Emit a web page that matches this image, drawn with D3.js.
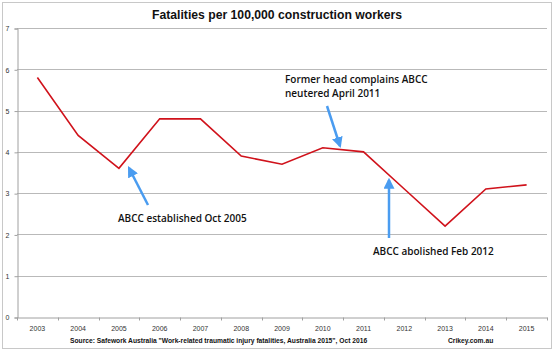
<!DOCTYPE html>
<html>
<head>
<script src="https://d3js.org/d3.v7.min.js"></script>
<style>
  body { margin: 0; background: #fff; }
  text { font-family: "Liberation Sans", Arial, sans-serif; }
  .note { font-family: "Open Sans", sans-serif; font-weight: 600; font-size: 10px; fill: #111; }
</style>
</head>
<body>
<div id="chart"></div>
<script>
// fatalities per 100,000 construction workers
var years = ["2003","2004","2005","2006","2007","2008","2009","2010","2011","2012","2013","2014","2015"];
var rates = [5.8, 4.4, 3.6, 4.8, 4.8, 3.9, 3.7, 4.1, 4.0, 3.1, 2.2, 3.1, 3.2];
var yTicks = [0, 1, 2, 3, 4, 5, 6, 7];

var width = 555, height = 353;
var plotLeft = 17, plotRight = 547, plotTop = 28, plotBottom = 317;

var svg = d3.select("#chart").append("svg")
    .attr("width", width)
    .attr("height", height);

// outer frame
svg.append("rect")
    .attr("x", 2.5).attr("y", 2.5)
    .attr("width", 549).attr("height", 346)
    .attr("fill", "#fff")
    .attr("stroke", "#c8c8c8");

var x = d3.scaleBand().domain(years).range([plotLeft, plotRight]);
var y = d3.scaleLinear().domain([0, 7]).range([plotBottom, plotTop]);

// grid
svg.append("g").selectAll("line").data(yTicks.slice(1)).enter()
    .append("line")
    .attr("x1", plotLeft).attr("x2", plotRight)
    .attr("y1", function(d) { return Math.round(y(d)) + 0.5; })
    .attr("y2", function(d) { return Math.round(y(d)) + 0.5; })
    .attr("stroke", "#b9b9b9");

// y axis
var yAxis = svg.append("g")
    .attr("transform", "translate(" + (plotLeft + 0.5) + ",0.5)")
    .call(d3.axisLeft(y).tickValues(yTicks).tickSize(3).tickPadding(5).tickFormat(d3.format("d")));
yAxis.select(".domain").attr("stroke", "#a0a0a0");
yAxis.selectAll(".tick line").attr("stroke", "#a0a0a0");
yAxis.selectAll("text").attr("font-size", 7).attr("fill", "#333").attr("font-family", "Liberation Sans, Arial, sans-serif");

// x axis
var xAxis = svg.append("g")
    .attr("transform", "translate(0," + (plotBottom + 0.5) + ")")
    .call(d3.axisBottom(x).tickSize(0).tickPadding(9));
xAxis.select(".domain").attr("stroke", "#a0a0a0");
xAxis.selectAll("text").attr("font-size", 7).attr("fill", "#333").attr("font-family", "Liberation Sans, Arial, sans-serif");
// tick marks between categories
xAxis.selectAll(".sep").data(years.concat(["end"])).enter()
    .append("line")
    .attr("x1", function(d, i) { return Math.round(plotLeft + i * x.step()) + 0.5; })
    .attr("x2", function(d, i) { return Math.round(plotLeft + i * x.step()) + 0.5; })
    .attr("y1", 0).attr("y2", 3)
    .attr("stroke", "#a0a0a0");

// line
var line = d3.line()
    .x(function(d, i) { return x(years[i]) + x.bandwidth() / 2; })
    .y(function(d) { return y(d); });

svg.append("path")
    .datum(rates)
    .attr("d", line)
    .attr("fill", "none")
    .attr("stroke", "#d0121b")
    .attr("stroke-width", 1.6)
    .attr("stroke-linejoin", "miter");

// title
svg.append("text")
    .attr("x", 277).attr("y", 19)
    .attr("text-anchor", "middle")
    .attr("font-weight", "bold")
    .attr("font-size", 12.2)
    .attr("fill", "#111")
    .text("Fatalities per 100,000 construction workers");

// footer
svg.append("text")
    .attr("x", 70).attr("y", 343)
    .attr("font-weight", "bold")
    .attr("font-size", 6.7)
    .attr("fill", "#111")
    .text("Source: Safework Australia \"Work-related traumatic injury fatalities, Australia 2015\", Oct 2016");
svg.append("text")
    .attr("x", 448).attr("y", 343)
    .attr("font-weight", "bold")
    .attr("font-size", 6.7)
    .attr("fill", "#111")
    .text("Crikey.com.au");

// annotations
var defs = svg.append("defs");
defs.append("marker")
    .attr("id", "head")
    .attr("viewBox", "0 0 10 10")
    .attr("refX", 8).attr("refY", 5)
    .attr("markerWidth", 4.4).attr("markerHeight", 4.4)
    .attr("markerUnits", "strokeWidth")
    .attr("orient", "auto")
    .append("path")
    .attr("d", "M0,0 L10,5 L0,10 Z")
    .attr("fill", "#4a9cf0");

var arrows = [
    [148, 205, 129, 168],
    [327, 106, 340, 146],
    [389, 238, 389, 180]
];
svg.append("g").selectAll("line").data(arrows).enter()
    .append("line")
    .attr("x1", function(d) { return d[0]; })
    .attr("y1", function(d) { return d[1]; })
    .attr("x2", function(d) { return d[2]; })
    .attr("y2", function(d) { return d[3]; })
    .attr("stroke", "#4a9cf0")
    .attr("stroke-width", 2.5)
    .attr("marker-end", "url(#head)");

svg.append("text").attr("class", "note").attr("x", 118).attr("y", 222).text("ABCC established Oct 2005");
svg.append("text").attr("class", "note").attr("x", 285).attr("y", 83).text("Former head complains ABCC");
svg.append("text").attr("class", "note").attr("x", 285).attr("y", 97).text("neutered April 2011");
svg.append("text").attr("class", "note").attr("x", 373).attr("y", 255).text("ABCC abolished Feb 2012");
</script>
</body>
</html>
